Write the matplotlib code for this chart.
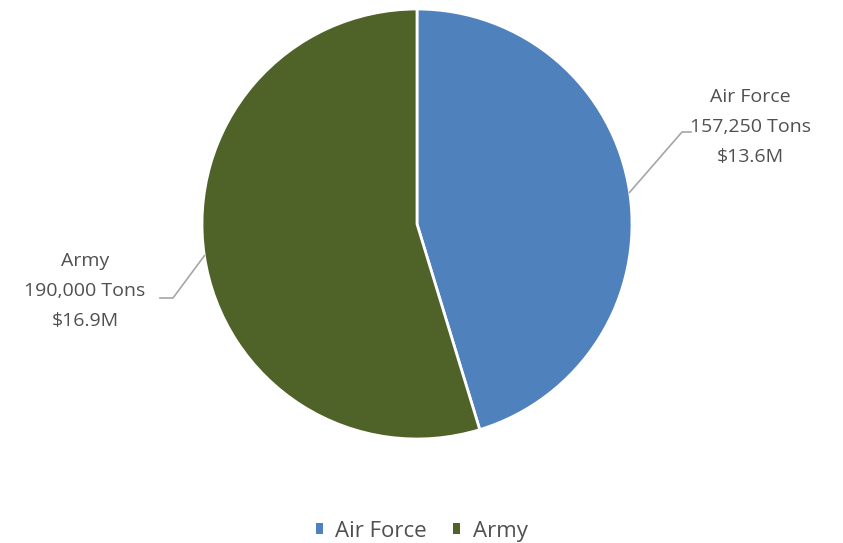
import numpy as np
import matplotlib.pyplot as plt
from matplotlib.patches import Patch

branches = ["Air Force", "Army"]
tons = [157250, 190000]
costs = ["$13.6M", "$16.9M"]
colors = ["#4F81BD", "#4F6228"]

W, H = 843, 543
fig = plt.figure(figsize=(W / 100, H / 100), dpi=100)
ax = fig.add_axes([0, 0, 1, 1])

cx, cy, r = 417, H - 224, 215
wedges, _ = ax.pie(tons, colors=colors, startangle=90, counterclock=False,
                   center=(cx, cy), radius=r,
                   wedgeprops=dict(edgecolor="white", linewidth=2))
ax.set_xlim(0, W)
ax.set_ylim(0, H)
ax.set_aspect("equal")
ax.axis("off")

text_color = "#505050"
font = dict(family="Open Sans", fontsize=14, color=text_color)

# label positions and leader elbows (pixels)
label_xy = [(750, H - 127), (85, H - 291)]
elbows = [(682, H - 132), (173, H - 298)]
tails = [(691, H - 132), (160, H - 298)]

for w, name, t, c, lxy, elb, tail in zip(wedges, branches, tons, costs,
                                          label_xy, elbows, tails):
    mid = np.deg2rad((w.theta1 + w.theta2) / 2)
    ex, ey = cx + r * np.cos(mid), cy + r * np.sin(mid)
    ax.plot([ex, elb[0], tail[0]], [ey, elb[1], tail[1]],
            color="#A6A6A6", lw=1.2)
    ax.text(lxy[0], lxy[1], f"{name}\n{t:,} Tons\n{c}", ha="center",
            va="center", linespacing=1.85, **font)

handles = [Patch(facecolor=col, edgecolor="none") for col in colors]
fig.legend(handles, branches, loc="lower center", ncol=2, frameon=False,
           bbox_to_anchor=(0.5, -0.03), handlelength=0.32, handleheight=0.32,
           handletextpad=0.55, columnspacing=1.2, borderpad=0.3,
           prop=dict(family="Open Sans", size=16), labelcolor=text_color)

fig.savefig("out.png", dpi=100, facecolor="white")
